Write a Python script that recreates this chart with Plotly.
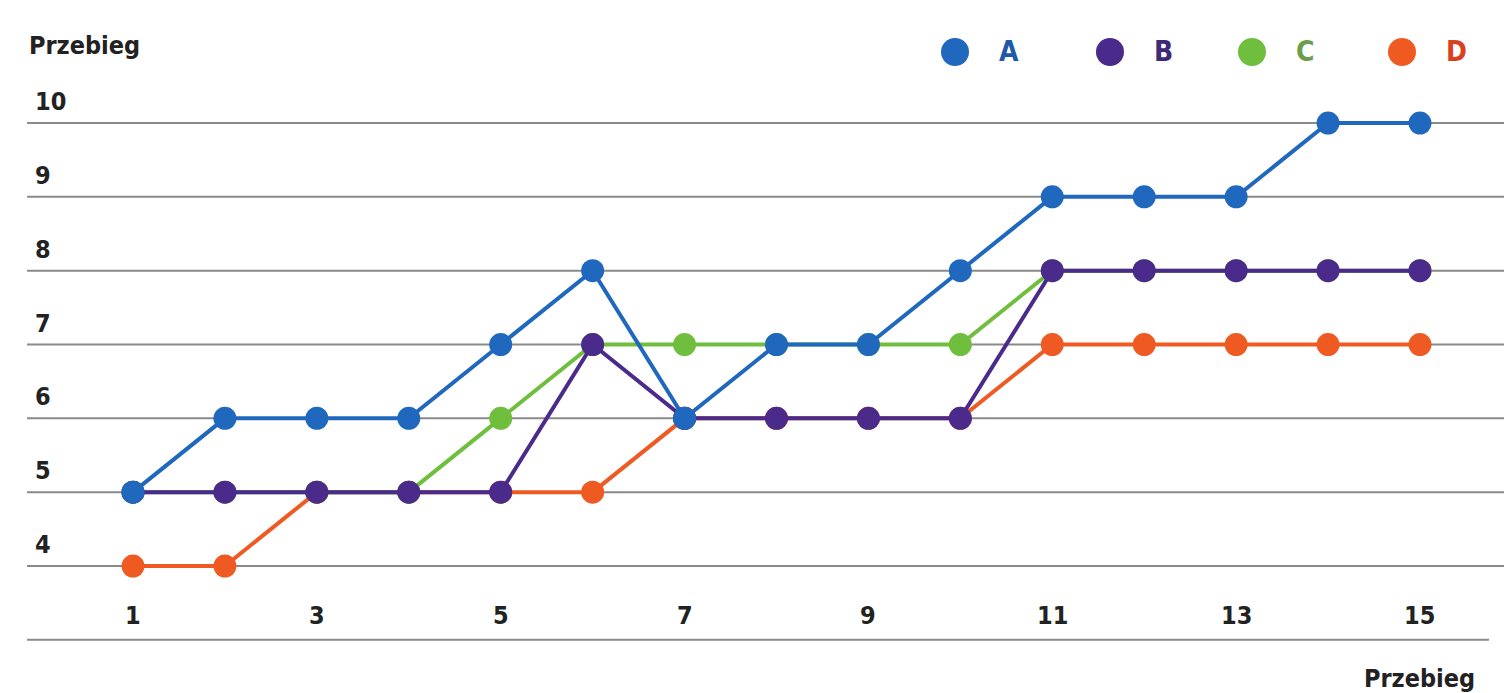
import plotly.graph_objects as go

x_vals = list(range(1, 16))
series_names = ["A", "B", "C", "D"]
A = [5, 6, 6, 6, 7, 8, 6, 7, 7, 8, 9, 9, 9, 10, 10]
B = [5, 5, 5, 5, 5, 7, 6, 6, 6, 6, 8, 8, 8, 8, 8]
C = [5, 5, 5, 5, 6, 7, 7, 7, 7, 7, 8, 8, 8, 8, 8]
D = [4, 4, 5, 5, 5, 5, 6, 6, 6, 6, 7, 7, 7, 7, 7]
y_ticks = [4, 5, 6, 7, 8, 9, 10]
x_ticks = [1, 3, 5, 7, 9, 11, 13, 15]
axis_title = "Przebieg"

colors = {"A": "#2067BE", "B": "#4A2A8A", "C": "#6FBE3E", "D": "#EE5A22"}
text_colors = {"A": "#1F5AA8", "B": "#3F2A78", "C": "#6A9E4A", "D": "#D9401E"}
data = {"A": A, "B": B, "C": C, "D": D}

FONT = "DejaVu Sans Condensed, Liberation Sans Narrow, Arial Narrow, sans-serif"

fig = go.Figure()
for name in ["D", "C", "B", "A"]:
    fig.add_trace(go.Scatter(
        x=x_vals, y=data[name], mode="lines+markers", name=name,
        line=dict(color=colors[name], width=4),
        marker=dict(color=colors[name], size=23, line=dict(width=0)),
        showlegend=False,
    ))

shapes = []
annotations = []
for t in y_ticks:
    shapes.append(dict(type="line", xref="paper", yref="y", x0=0.018, x1=1.0,
                       y0=t, y1=t, line=dict(color="#8a8a8a", width=2), layer="below"))
    annotations.append(dict(xref="paper", yref="y", x=0.022, y=t, text=f"<b>{t}</b>",
                            showarrow=False, xanchor="left", yanchor="bottom", yshift=5,
                            font=dict(family=FONT, size=25, color="#222")))
shapes.append(dict(type="line", xref="paper", yref="y", x0=0.018, x1=0.99,
                   y0=3, y1=3, line=dict(color="#8a8a8a", width=2), layer="below"))
for t in x_ticks:
    annotations.append(dict(xref="x", yref="y", x=t, y=3, text=f"<b>{t}</b>",
                            showarrow=False, xanchor="center", yanchor="bottom", yshift=8,
                            font=dict(family=FONT, size=25, color="#222")))
annotations.append(dict(xref="paper", yref="paper", x=0.018, y=1 - 45 / 693, text=f"<b>{axis_title}</b>",
                        showarrow=False, xanchor="left", yanchor="middle",
                        font=dict(family=FONT, size=25, color="#222")))
annotations.append(dict(xref="paper", yref="paper", x=0.982, y=1 - 678 / 693, text=f"<b>{axis_title}</b>",
                        showarrow=False, xanchor="right", yanchor="middle",
                        font=dict(family=FONT, size=25, color="#222")))
leg_x = [955, 1110, 1252, 1402]
r = 14
for name, px in zip(series_names, leg_x):
    cy = 693 - 52
    shapes.append(dict(type="circle", xref="paper", yref="paper",
                       x0=(px - r) / 1504, x1=(px + r) / 1504,
                       y0=(cy - r) / 693, y1=(cy + r) / 693,
                       fillcolor=colors[name], line=dict(width=0)))
    annotations.append(dict(xref="paper", yref="paper", x=(px + 42) / 1504, y=cy / 693,
                            text=f"<b>{name}</b>", showarrow=False, xanchor="left", yanchor="middle",
                            font=dict(family=FONT, size=28, color=text_colors[name])))

fig.update_layout(
    width=1504, height=693,
    margin=dict(l=0, r=0, t=0, b=0),
    paper_bgcolor="white", plot_bgcolor="white",
    xaxis=dict(range=[-0.4468, 15.914], visible=False, fixedrange=True),
    yaxis=dict(range=[2.280, 11.666], visible=False, fixedrange=True),
    shapes=shapes, annotations=annotations,
    showlegend=False,
)
fig.write_html("out.html")
